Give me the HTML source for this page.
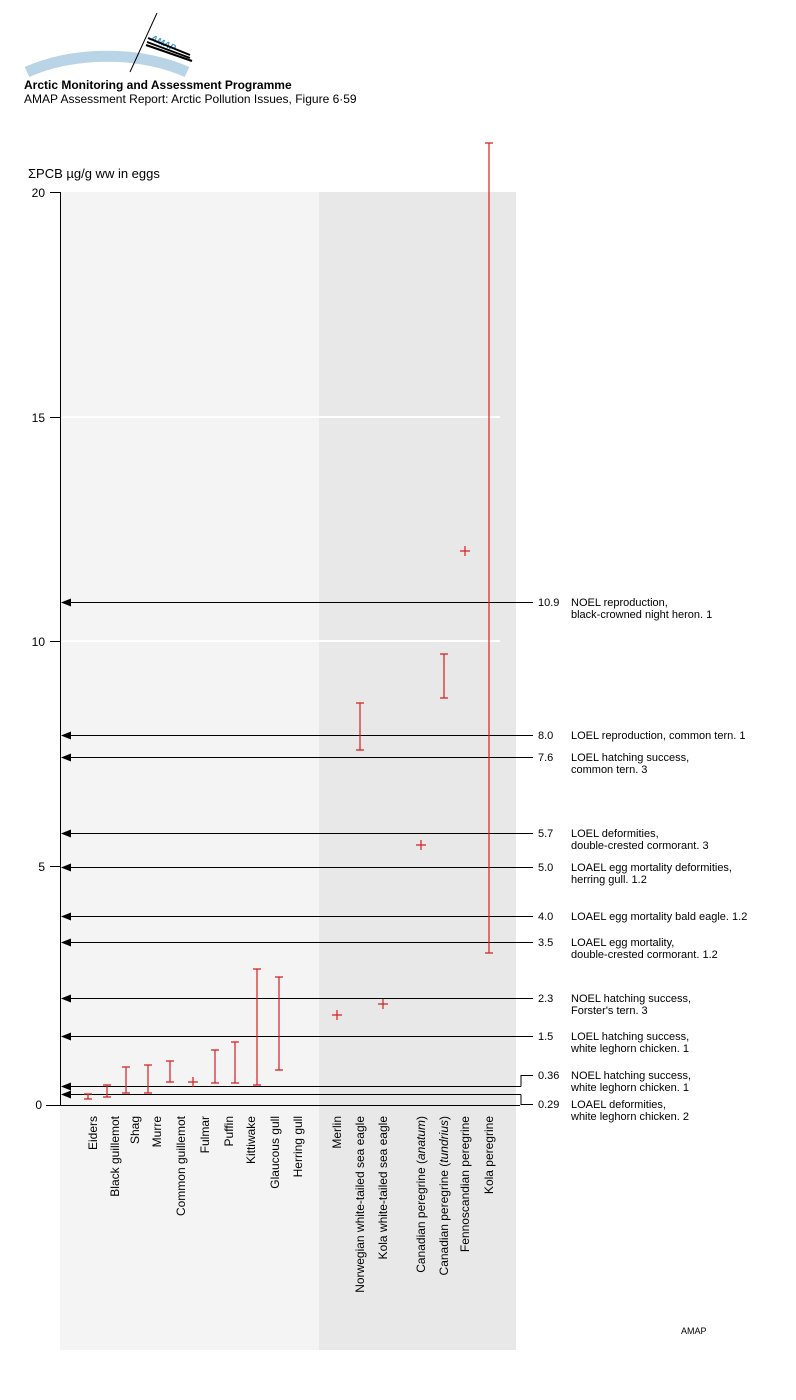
<!DOCTYPE html>
<html><head><meta charset="utf-8"><style>
html,body{margin:0;padding:0;background:#fff}
svg{display:block;font-family:"Liberation Sans",sans-serif}
</style></head><body>
<svg width="796" height="1400" viewBox="0 0 796 1400" xmlns="http://www.w3.org/2000/svg">
<defs><marker id="ah" markerWidth="10" markerHeight="8" refX="9" refY="4" orient="auto" markerUnits="userSpaceOnUse"><path d="M0,0 L10,4 L0,8 Z" fill="#000"/></marker></defs>
<!-- logo -->
<path d="M27,72 A120,62 0 0 1 187,72" fill="none" stroke="#b8d4e6" stroke-width="11"/>
<line x1="130" y1="72" x2="157" y2="13" stroke="#000" stroke-width="1"/>
<text x="150" y="40" font-size="9" fill="#3c9ac8" font-style="italic" font-weight="bold" transform="rotate(25 150 40)">AMAP</text>
<line x1="148" y1="38" x2="190" y2="55" stroke="#000" stroke-width="2"/>
<line x1="147" y1="42" x2="190" y2="58" stroke="#000" stroke-width="2"/>
<line x1="146" y1="45" x2="192" y2="61" stroke="#000" stroke-width="2"/>
<text x="24" y="89" font-size="12" font-weight="bold">Arctic Monitoring and Assessment Programme</text>
<text x="24" y="103" font-size="12">AMAP Assessment Report: Arctic Pollution Issues, Figure 6·59</text>
<text x="28" y="178" font-size="13">ΣPCB µg/g ww in eggs</text>
<!-- panels -->
<rect x="60" y="192" width="259" height="1158" fill="#f4f4f4"/>
<rect x="319" y="192" width="197" height="1158" fill="#e8e8e8"/>
<line x1="62" y1="417" x2="500" y2="417" stroke="#fff" stroke-width="2"/>
<line x1="62" y1="641" x2="500" y2="641" stroke="#fff" stroke-width="2"/>
<!-- axis -->
<g stroke="#000" stroke-width="1">
<line x1="60.5" y1="192" x2="60.5" y2="1105"/>
<line x1="50" y1="192.5" x2="60" y2="192.5"/>
<line x1="50" y1="417.5" x2="60" y2="417.5"/>
<line x1="50" y1="641.5" x2="60" y2="641.5"/>
<line x1="50" y1="866.5" x2="60" y2="866.5"/>
<line x1="46" y1="1105.5" x2="520" y2="1105.5"/>
</g>
<g font-size="12" text-anchor="end">
<text x="45" y="197">20</text><text x="45" y="422">15</text><text x="45" y="646">10</text><text x="45" y="871">5</text><text x="42" y="1109">0</text>
</g>
<!-- arrows -->
<g stroke="#000" stroke-width="1">
<line x1="533" y1="602.5" x2="62" y2="602.5" marker-end="url(#ah)"/>
<line x1="533" y1="735.5" x2="62" y2="735.5" marker-end="url(#ah)"/>
<line x1="533" y1="757.5" x2="62" y2="757.5" marker-end="url(#ah)"/>
<line x1="533" y1="833.5" x2="62" y2="833.5" marker-end="url(#ah)"/>
<line x1="533" y1="867.5" x2="62" y2="867.5" marker-end="url(#ah)"/>
<line x1="533" y1="916.5" x2="62" y2="916.5" marker-end="url(#ah)"/>
<line x1="533" y1="942.5" x2="62" y2="942.5" marker-end="url(#ah)"/>
<line x1="533" y1="998.5" x2="62" y2="998.5" marker-end="url(#ah)"/>
<line x1="533" y1="1036.5" x2="62" y2="1036.5" marker-end="url(#ah)"/>
<polyline fill="none" points="521,1086.5 521,1075.5 533,1075.5"/>
<line x1="521" y1="1086.5" x2="62" y2="1086.5" marker-end="url(#ah)"/>
<polyline fill="none" points="521,1094.5 521,1104.5 533,1104.5"/>
<line x1="521" y1="1094.5" x2="62" y2="1094.5" marker-end="url(#ah)"/>
</g>
<g font-size="11">
<text x="538" y="606">10.9</text><text x="571" y="606">NOEL reproduction,</text><text x="571" y="618">black-crowned night heron. 1</text>
<text x="538" y="739">8.0</text><text x="571" y="739">LOEL reproduction, common tern. 1</text>
<text x="538" y="761">7.6</text><text x="571" y="761">LOEL hatching success,</text><text x="571" y="773">common tern. 3</text>
<text x="538" y="837">5.7</text><text x="571" y="837">LOEL deformities,</text><text x="571" y="849">double-crested cormorant. 3</text>
<text x="538" y="871">5.0</text><text x="571" y="871">LOAEL egg mortality deformities,</text><text x="571" y="883">herring gull. 1.2</text>
<text x="538" y="920">4.0</text><text x="571" y="920">LOAEL egg mortality bald eagle. 1.2</text>
<text x="538" y="946">3.5</text><text x="571" y="946">LOAEL egg mortality,</text><text x="571" y="958">double-crested cormorant. 1.2</text>
<text x="538" y="1002">2.3</text><text x="571" y="1002">NOEL hatching success,</text><text x="571" y="1014">Forster's tern. 3</text>
<text x="538" y="1040">1.5</text><text x="571" y="1040">LOEL hatching success,</text><text x="571" y="1052">white leghorn chicken. 1</text>
<text x="538" y="1079">0.36</text><text x="571" y="1079">NOEL hatching success,</text><text x="571" y="1091">white leghorn chicken. 1</text>
<text x="538" y="1108">0.29</text><text x="571" y="1108">LOAEL deformities,</text><text x="571" y="1120">white leghorn chicken. 2</text>
</g>
<!-- error bars -->
<g stroke="#d42020" stroke-width="1.2" fill="none">
<path d="M88,1094V1099M84,1094H92M84,1099H92"/>
<path d="M107,1085V1097M103,1085H111M103,1097H111"/>
<path d="M126,1067V1093M122,1067H130M122,1093H130"/>
<path d="M148,1065V1093M144,1065H152M144,1093H152"/>
<path d="M170,1061V1082M166,1061H174M166,1082H174"/>
<path d="M193,1077V1087M188,1082H198"/>
<path d="M215,1050V1083M211,1050H219M211,1083H219"/>
<path d="M235,1042V1083M231,1042H239M231,1083H239"/>
<path d="M257,969V1085M253,969H261M253,1085H261"/>
<path d="M279,977V1070M275,977H283M275,1070H283"/>
<path d="M337,1010V1020M332,1015H342"/>
<path d="M360,703V750M356,703H364M356,750H364"/>
<path d="M383,999V1009M378,1004H388"/>
<path d="M421,840V850M416,845H426"/>
<path d="M444,654V698M440,654H448M440,698H448"/>
<path d="M465,546V556M460,551H470"/>
<path d="M489,143V953M485,143H493M485,953H493"/>
</g>
<!-- category labels -->
<g font-size="12" text-anchor="end">
<text transform="translate(97,1116) rotate(-90)">Eiders</text>
<text transform="translate(119,1116) rotate(-90)">Black guillemot</text>
<text transform="translate(139,1116) rotate(-90)">Shag</text>
<text transform="translate(161,1116) rotate(-90)">Murre</text>
<text transform="translate(185,1116) rotate(-90)">Common guillemot</text>
<text transform="translate(209,1116) rotate(-90)">Fulmar</text>
<text transform="translate(233,1116) rotate(-90)">Puffin</text>
<text transform="translate(255,1116) rotate(-90)">Kittiwake</text>
<text transform="translate(279,1116) rotate(-90)">Glaucous gull</text>
<text transform="translate(302,1116) rotate(-90)">Herring gull</text>
<text transform="translate(341,1116) rotate(-90)">Merlin</text>
<text transform="translate(364,1116) rotate(-90)">Norwegian white-tailed sea eagle</text>
<text transform="translate(387,1116) rotate(-90)">Kola white-tailed sea eagle</text>
<text transform="translate(425,1116) rotate(-90)">Canadian peregrine (<tspan font-style="italic">anatum</tspan>)</text>
<text transform="translate(448,1116) rotate(-90)">Canadian peregrine (<tspan font-style="italic">tundrius</tspan>)</text>
<text transform="translate(469,1116) rotate(-90)">Fennoscandian peregrine</text>
<text transform="translate(493,1116) rotate(-90)">Kola peregrine</text>
</g>
<text x="681" y="1334" font-size="9">AMAP</text>
</svg>
</body></html>
